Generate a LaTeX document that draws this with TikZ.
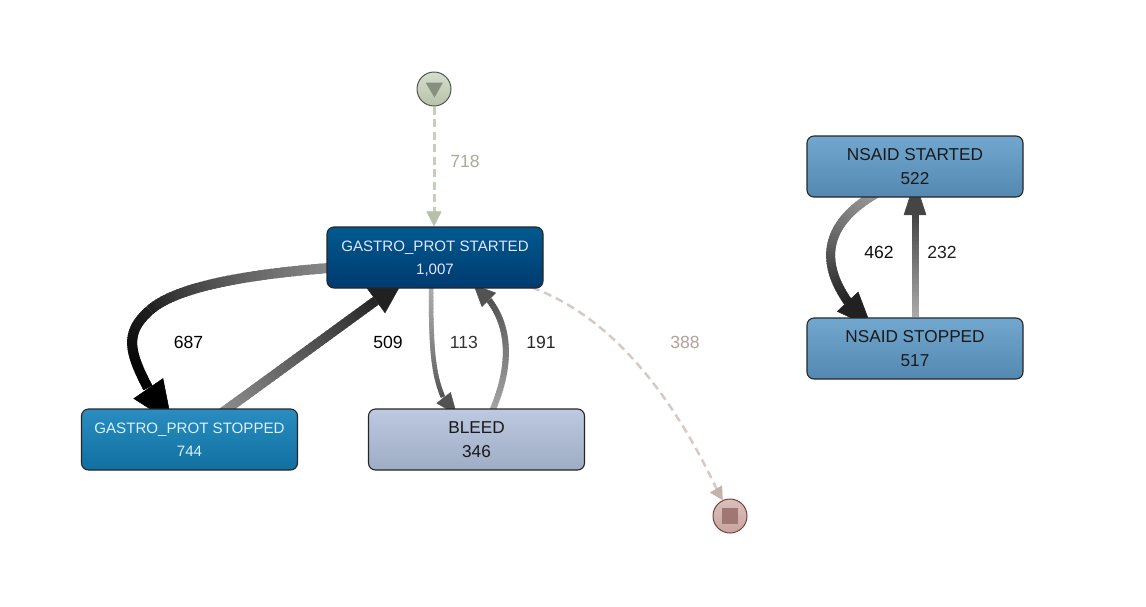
\documentclass[tikz,border=0pt]{standalone}
\usepackage{fontspec}
\setmainfont{Liberation Sans}
\usetikzlibrary{arrows.meta,positioning,calc,backgrounds}

\definecolor{startline}{HTML}{B5C2A7}
\definecolor{startdash}{HTML}{C6CFBA}
\definecolor{endline}{HTML}{D6CAC6}
\definecolor{endhead}{HTML}{C6B2AC}
\definecolor{gpstarttop}{HTML}{005A8E}
\definecolor{gpstartbot}{HTML}{003A70}
\definecolor{gpstoptop}{HTML}{2A8CC0}
\definecolor{gpstopbot}{HTML}{1070A0}
\definecolor{bleedtop}{HTML}{BCC9E0}
\definecolor{bleedbot}{HTML}{9FACC5}
\definecolor{nsaidtop}{HTML}{72A8D0}
\definecolor{nsaidbot}{HTML}{5389B0}

\tikzset{
  activity/.style={draw=black!85, line width=1.1pt, rounded corners=7pt, minimum width=216pt, minimum height=61pt, inner sep=0pt, align=center},
  smalltext/.style={font=\fontsize{15.1}{23.4}\selectfont, execute at begin node={\rule{0pt}{13.4pt}}},
  bigtext/.style={font=\fontsize{17.2}{23.4}\selectfont, text=black!90, execute at begin node={\rule{0pt}{15.6pt}}},
  edgelabel/.style={font=\fontsize{17.6}{20}\selectfont, inner sep=0pt},
  endpoint/.style={circle, minimum size=34pt, inner sep=0pt, line width=1pt}
}

% one edge piece, shaded along its length: from, c1, c2, to, width, black% at start, black% at end
\newcommand{\gradedge}[7]{
  \foreach \i in {1,...,40}{
    \pgfmathsetmacro\ta{(\i-1)/40}
    \pgfmathsetmacro\tb{min(1,(\i+0.6)/40)}
    \pgfmathsetmacro\tone{#6+(#7-#6)*(\i-0.5)/40}
    \path (#1) .. controls (#2) and (#3) .. (#4) coordinate[pos=\ta] (ga) coordinate[pos=\tb] (gb);
    \draw[line width=#5, draw=black!\tone] (ga) -- (gb);
  }
}
% arrow head: base, apex, length, width, colour
\newcommand{\edgehead}[5]{
  \draw[-{Triangle[length=#3,width=#4]}, line width=0.5pt, draw=#5] (#1) -- (#2);
}

\begin{document}
\begin{tikzpicture}[x=1pt, y=-1pt]
  \useasboundingbox (0,0) rectangle (1146,606);

  % Start and end
  \node[endpoint, draw=black!55!startline, top color=startline!55!white, bottom color=startline] (gostart) at (434,89) {};
  \node[endpoint, draw=black!55!endhead!85!red, top color=endhead!70!white!95!red, bottom color=endhead!92!red] (gostop) at (730,516) {};
  \fill[black!25!startline!85!gray] ($(gostart)+(-8.5,-6.5)$) -- ($(gostart)+(9,-6.5)$) -- ($(gostart)+(0.5,8.5)$) -- cycle;
  \node[fill=black!25!endhead!90!red, minimum size=16pt, inner sep=0pt] (stopmark) at (gostop) {};

  % Left group
  \node[activity, smalltext, text=white!90!blue, top color=gpstarttop, bottom color=gpstartbot] (gpstarted) at (435,257.5) {GASTRO\_PROT STARTED\\1\smash{,}007};
  \node[activity, smalltext, text=white!85!cyan, top color=gpstoptop, bottom color=gpstopbot] (gpstopped) at (189.5,439.5) {GASTRO\_PROT STOPPED\\744};
  \node[activity, bigtext, top color=bleedtop, bottom color=bleedbot] (bleed) at (476.5,439.5) {BLEED\\346};

  % Right group
  \node[activity, bigtext, top color=nsaidtop, bottom color=nsaidbot] (nsstarted) at (915,166.5) {NSAID STARTED\\522};
  \node[activity, bigtext, top color=nsaidtop, bottom color=nsaidbot] (nsstopped) at (915,348.5) {NSAID STOPPED\\517};

  % Edges sit behind the boxes
  \begin{scope}[on background layer]
    \draw[line width=3pt, draw=startdash, dash pattern=on 8pt off 4.5pt] (gostart) -- ($(gpstarted.north)+(-1,-14)$);
    \edgehead{$(gpstarted.north)+(-1,-14)$}{$(gpstarted.north)+(-1,0)$}{15pt}{15pt}{startline}

    \gradedge{$(gpstarted.west)+(2,10.5)$}{240,275}{175,288}{150,310}{10pt}{47}{88}
    \gradedge{150,310}{125,332}{128,350}{148,388}{10pt}{88}{100}
    \edgehead{148,388}{172,423}{42pt}{36pt}{black}

    \gradedge{$(gpstopped.north)+(26,9)$}{270,378}{330,334}{376,300.6}{9.5pt}{43}{85}
    \edgehead{376,300.6}{403,281}{33.5pt}{31pt}{black!87}

    \gradedge{$(gpstarted.south)+(-4,-5)$}{431,340}{432,372}{443,397}{4.5pt}{32}{68}
    \edgehead{443,397}{457,415}{22pt}{18pt}{black!68}

    \gradedge{$(bleed.north)+(15.5,3)$}{510,370}{512,330}{489,300}{6pt}{35}{68}
    \edgehead{489,300}{473.4,284.4}{22pt}{20pt}{black!68}

    \draw[line width=2.5pt, draw=endline, dash pattern=on 8pt off 5pt] ($(gpstarted.south)+(97,-1)$) .. controls (620,320) and (680,410) .. (719,494);
    \edgehead{719,494}{gostop.115}{13pt}{14pt}{endhead}

    \gradedge{$(nsstarted.south)+(-37,-5)$}{820,225}{822,265}{848,302}{9pt}{40}{87}
    \edgehead{848,302}{872,328}{36pt}{29pt}{black!87}

    \gradedge{nsstopped.north}{915,280}{915,250}{915,215}{7pt}{33}{73}
    \edgehead{915,215}{nsstarted.south |- 0,180}{35pt}{22.5pt}{black!73}
  \end{scope}

  % Labels
  \node[edgelabel, text=startline!90!black] (lab718) at (465,161) {718};
  \node[edgelabel, text=endhead!90!black] (lab388) at (685,342) {388};
  \node[edgelabel, text=black] (lab687) at (188.5,342) {687};
  \node[edgelabel, text=black] (lab509) at (388,342) {509};
  \node[edgelabel, text=black!80] (lab113) at (464,342) {113};
  \node[edgelabel, text=black!85] (lab191) at (541,342) {191};
  \node[edgelabel, text=black!95] (lab462) at (879,252) {462};
  \node[edgelabel, text=black!88] (lab232) at (942,252) {232};
\end{tikzpicture}
\end{document}
